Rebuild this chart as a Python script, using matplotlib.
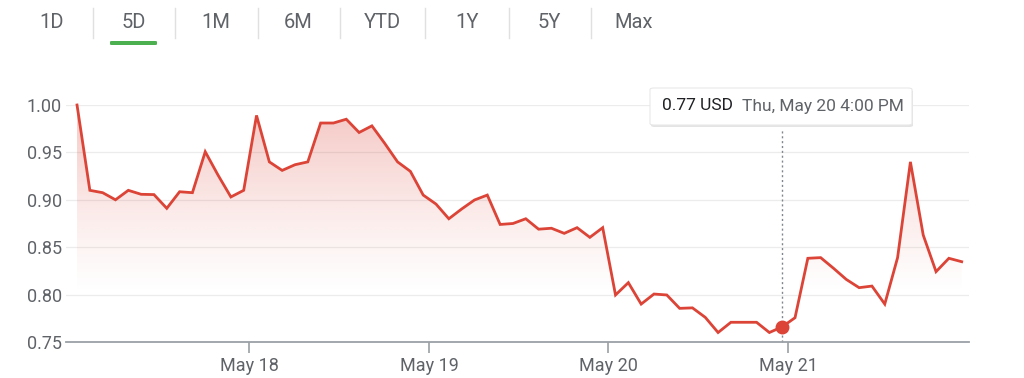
import numpy as np
import matplotlib
matplotlib.use("Agg")
import matplotlib.pyplot as plt
from matplotlib.patches import FancyBboxPatch

plt.rcParams["font.family"] = ["Roboto", "DejaVu Sans"]

# price readings, one every half hour of trading (5 sessions)
prices = [
    1.000, 0.910, 0.9075, 0.900, 0.910, 0.9058, 0.9055, 0.891, 0.9085, 0.9075,
    0.9507, 0.926, 0.903, 0.910, 0.989, 0.940, 0.931, 0.937, 0.940, 0.981,
    0.981, 0.985, 0.971, 0.978, 0.9595, 0.940, 0.930, 0.905, 0.8955, 0.880,
    0.8903, 0.8998, 0.905, 0.874, 0.875, 0.880, 0.869, 0.870, 0.8646, 0.8706,
    0.8604, 0.8706, 0.7996, 0.8126, 0.790, 0.8006, 0.7996, 0.7855, 0.786, 0.776,
    0.760, 0.7708, 0.7708, 0.7708, 0.760, 0.766, 0.7756, 0.8383, 0.839, 0.8278,
    0.816, 0.8073, 0.809, 0.790, 0.839, 0.940, 0.8628, 0.8242, 0.8383, 0.8347,
]
day_ticks = [13.42, 27.46, 41.42, 55.46]
day_labels = ["May 18", "May 19", "May 20", "May 21"]
y_ticks = [0.75, 0.80, 0.85, 0.90, 0.95, 1.00]
hover_idx = 55
hover_price = "0.77 USD"
hover_time = "Thu, May 20 4:00 PM"
tabs = ["1D", "5D", "1M", "6M", "YTD", "1Y", "5Y", "Max"]
active_tab = "5D"

RED = "#db4437"
GREY = "#5f6368"

W, H = 1024, 378
fig = plt.figure(figsize=(W / 100, H / 100), dpi=100)
ax = fig.add_axes([66 / W, 1 - 342 / H, (969 - 66) / W, (342 - 105) / H])

x = np.arange(len(prices))
y = np.array(prices)
x0, x1 = -0.86, 69.57
ax.set_xlim(x0, x1)
ax.set_ylim(0.75, 1.0)

# gradient fill under the line
gy = np.linspace(0.75, 1.0, 300)
alpha = np.clip((gy - 0.80) / 0.20, 0, 1) ** 1.2 * 0.30
rgba = np.zeros((len(gy), 2, 4))
rgba[..., 0], rgba[..., 1], rgba[..., 2] = 219 / 255, 68 / 255, 55 / 255
rgba[..., 3] = alpha[:, None]
fill = ax.fill_between(x, y, 0.75, color="none", lw=0)
img = ax.imshow(rgba, extent=[x0, x1, 0.75, 1.0], origin="lower",
                aspect="auto", zorder=1, interpolation="bilinear")
img.set_clip_path(fill.get_paths()[0], transform=ax.transData)

ax.plot(x, y, color=RED, lw=2.0, zorder=3, clip_on=False,
        solid_joinstyle="miter")

# grid
ax.set_yticks(y_ticks)
ax.set_yticklabels([f"{v:.2f}" for v in y_ticks])
for v in y_ticks[1:]:
    ax.axhline(v, color="#ececec", lw=0.9, zorder=0)
for s in ["top", "right", "left"]:
    ax.spines[s].set_visible(False)
ax.spines["bottom"].set_color("#9aa0a6")
ax.spines["bottom"].set_linewidth(1.3)
ax.tick_params(axis="y", length=0, pad=3, labelsize=13, labelcolor=GREY)
ax.set_xticks(day_ticks)
ax.set_xticklabels(day_labels)
ax.tick_params(axis="x", length=8, width=1.2, color="#9aa0a6", pad=3,
               labelsize=13, labelcolor=GREY)

# hover marker
ax.plot([hover_idx, hover_idx], [0.75, 0.975], color="#80868b", lw=1,
        ls=(0, (1.5, 2)), zorder=2, clip_on=False)
ax.plot(hover_idx, prices[hover_idx], "o", color=RED, ms=9, zorder=4)

# tooltip box
shadow = FancyBboxPatch((651 / W, 1 - 127 / H), 262 / W, 37 / H,
                        boxstyle="round,pad=0,rounding_size=0.004",
                        transform=fig.transFigure, fc="#e4e4e4", ec="none", zorder=5)
box = FancyBboxPatch((650 / W, 1 - 125 / H), 262 / W, 37 / H,
                     boxstyle="round,pad=0,rounding_size=0.004",
                     transform=fig.transFigure, fc="white", ec="#e8e8e8", lw=0.8, zorder=6)
fig.patches.extend([shadow, box])
fig.text(662 / W, 1 - 106 / H, hover_price, fontsize=12.5, color="#202124",
         va="center", ha="left", zorder=7)
fig.text(742 / W, 1 - 106 / H, hover_time, fontsize=12.5, color=GREY,
         va="center", ha="left", zorder=7)

# range tabs
tab_x = [52, 134, 216, 298, 382, 467, 549, 634]
sep_x = [93, 175, 258, 340, 425, 509, 591]
for tx, t in zip(tab_x, tabs):
    fig.text(tx / W, 1 - 23 / H, t, fontsize=14.5, color=GREY, ha="center", va="center")
    if t == active_tab:
        fig.patches.append(FancyBboxPatch((110 / W, 1 - 45 / H), 47 / W, 4 / H,
                                          boxstyle="round,pad=0,rounding_size=0.002",
                                          transform=fig.transFigure, fc="#4caf50",
                                          ec="none"))
for sx in sep_x:
    fig.lines.append(plt.Line2D([sx / W, sx / W], [1 - 8 / H, 1 - 38 / H],
                                transform=fig.transFigure, color="#e0e0e0", lw=1))

fig.savefig("out.png", dpi=100)
